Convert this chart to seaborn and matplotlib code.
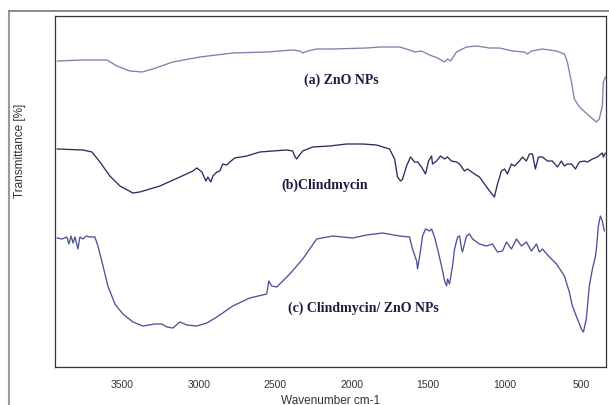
import numpy as np
import pandas as pd
import matplotlib
matplotlib.use("Agg")
import matplotlib.pyplot as plt
from matplotlib.lines import Line2D
import seaborn as sns

# ---- data (wavenumber cm-1, transmittance in arbitrary offset units) ----
wn_a = [3927, 3757, 3600, 3535, 3450, 3371, 3300, 3169, 2992, 2777, 2555, 2385, 2339, 2319,
        2287, 2228, 2123, 1901, 1816, 1685, 1620, 1587, 1542, 1489, 1437, 1391, 1372, 1352,
        1313, 1248, 1182, 1097, 1032, 947, 869, 849, 823, 751, 659, 607, 588, 561, 542, 509,
        444, 398, 379, 359, 352, 339]
t_a = [306, 307, 307, 301, 296, 295, 298, 305, 310, 314, 315, 317, 316, 314,
       316, 318, 318, 319, 320, 320, 317, 315, 316, 312, 309, 305, 308, 306,
       315, 320, 321, 319, 319, 316, 315, 313, 316, 318, 316, 313, 305, 285, 268, 260,
       251, 245, 248, 261, 285, 290]

wn_b = [3927, 3757, 3698, 3646, 3581, 3515, 3430, 3385, 3254, 3123, 3038, 3012, 2979, 2953,
        2940, 2921, 2907, 2881, 2862, 2842, 2816, 2796, 2764, 2685, 2600, 2515, 2424, 2385,
        2372, 2359, 2345, 2319, 2254, 2143, 2032, 1927, 1836, 1751, 1718, 1699, 1679, 1666,
        1640, 1614, 1587, 1568, 1542, 1516, 1496, 1476, 1470, 1444, 1418, 1391, 1372, 1346,
        1313, 1293, 1261, 1241, 1195, 1163, 1130, 1097, 1065, 1045, 1019, 999, 980, 954,
        934, 901, 882, 856, 836, 816, 797, 777, 751, 718, 686, 653, 627, 607, 588, 561,
        535, 509, 477, 457, 424, 392, 359, 352, 339]
t_b = [218, 217, 215, 205, 191, 181, 174, 175, 181, 190, 196, 199, 195, 186,
       190, 185, 191, 195, 196, 203, 202, 205, 209, 211, 215, 216, 217, 216,
       211, 208, 211, 216, 220, 221, 223, 223, 222, 218, 208, 190, 186, 188,
       201, 210, 205, 205, 200, 193, 206, 211, 203, 206, 211, 208, 210, 206,
       205, 203, 196, 198, 193, 190, 183, 176, 170, 183, 196, 198, 193, 203,
       201, 206, 210, 206, 213, 213, 198, 210, 210, 206, 206, 200, 206, 201, 203, 203,
       198, 205, 206, 205, 208, 210, 214, 210, 214]

wn_c = [3927, 3894, 3862, 3849, 3835, 3822, 3809, 3790, 3777, 3757, 3737, 3711, 3679, 3659,
        3626, 3594, 3548, 3496, 3430, 3365, 3287, 3241, 3208, 3169, 3123, 3077, 3012, 2947,
        2881, 2777, 2666, 2555, 2541, 2522, 2489, 2404, 2319, 2228, 2123, 1993, 1901, 1797,
        1685, 1620, 1601, 1574, 1568, 1555, 1535, 1516, 1489, 1476, 1457, 1437, 1411, 1391,
        1378, 1372, 1359, 1339, 1326, 1306, 1293, 1280, 1274, 1248, 1228, 1208, 1163, 1117,
        1078, 1045, 1012, 986, 954, 921, 888, 856, 823, 790, 771, 751, 705, 659, 607, 575,
        555, 522, 496, 483, 464, 444, 424, 405, 398, 385, 372, 359, 346]
t_c = [129, 128, 130, 123, 131, 124, 130, 118, 130, 128, 131, 130, 130, 121,
       101, 81, 63, 53, 45, 41, 43, 43, 40, 39, 45, 42, 41, 44,
       50, 61, 69, 73, 86, 81, 80, 93, 108, 128, 131, 129, 132, 134,
       131, 130, 118, 106, 98, 110, 131, 138, 136, 138, 130, 118, 101, 86,
       81, 88, 83, 101, 118, 130, 131, 118, 115, 131, 133, 128, 123, 121,
       123, 115, 116, 125, 118, 128, 121, 125, 116, 123, 115, 118, 110, 103, 91, 75,
       61, 48, 38, 35, 48, 81, 98, 110, 118, 141, 151, 146, 136]

series_names = ["(a) ZnO NPs", "(b)Clindmycin", "(c) Clindmycin/ ZnO NPs"]
x_ticks = [3500, 3000, 2500, 2000, 1500, 1000, 500]
x_label = "Wavenumber cm-1"
y_label = "Transmittance [%]"

df = pd.concat([
    pd.DataFrame({"wavenumber": wn_a, "T": t_a, "sample": series_names[0]}),
    pd.DataFrame({"wavenumber": wn_b, "T": t_b, "sample": series_names[1]}),
    pd.DataFrame({"wavenumber": wn_c, "T": t_c, "sample": series_names[2]}),
], ignore_index=True)

palette = {series_names[0]: "#7a82ad", series_names[1]: "#2c2d5e", series_names[2]: "#4b5396"}

sns.set_style("white")
plt.rcParams["font.family"] = ["Liberation Sans", "DejaVu Sans"]

fig = plt.figure(figsize=(6.09, 4.06), dpi=100)
ax = fig.add_axes([55 / 609, 1 - 368 / 406, (606 - 55) / 609, (368 - 17) / 406])

sns.lineplot(data=df, x="wavenumber", y="T", hue="sample", palette=palette,
             linewidth=0.95, legend=False, ax=ax, estimator=None)
for ln in ax.lines:
    ln.set_solid_joinstyle("round")

ax.set_xlim(3940, 335)
ax.set_ylim(0, 351)
ax.set_xticks(x_ticks)
ax.set_xticklabels([str(v) for v in x_ticks])
ax.set_yticks([])
ax.tick_params(axis="x", direction="out", length=3, width=0.8, colors="#444444",
               labelsize=7.5, pad=6, labelcolor="#333333")
for s in ax.spines.values():
    s.set_color("#333333")
    s.set_linewidth(0.9)

ax.set_xlabel(x_label, fontsize=8.5, color="#333333", labelpad=3)
ax.set_ylabel(y_label, fontsize=8.5, color="#333333")
ax.yaxis.set_label_coords(-0.052, 0.62)

label_pos = [(2064, 288), (2176, 183), (1921, 60)]
for name, (lx, ly) in zip(series_names, label_pos):
    ax.text(lx, ly, name, ha="center", va="center", fontsize=10, fontweight="bold",
            family=["Liberation Serif", "DejaVu Serif"], color="#1c1c40")

# outer gray frame lines
fig.add_artist(Line2D([9 / 609, 9 / 609], [0, 1 - 12 / 406], transform=fig.transFigure,
                      color="#999999", linewidth=1.5))
fig.add_artist(Line2D([9 / 609, 1], [1 - 12 / 406, 1 - 12 / 406], transform=fig.transFigure,
                      color="#777777", linewidth=1.2))

fig.savefig("out.png", dpi=100)
